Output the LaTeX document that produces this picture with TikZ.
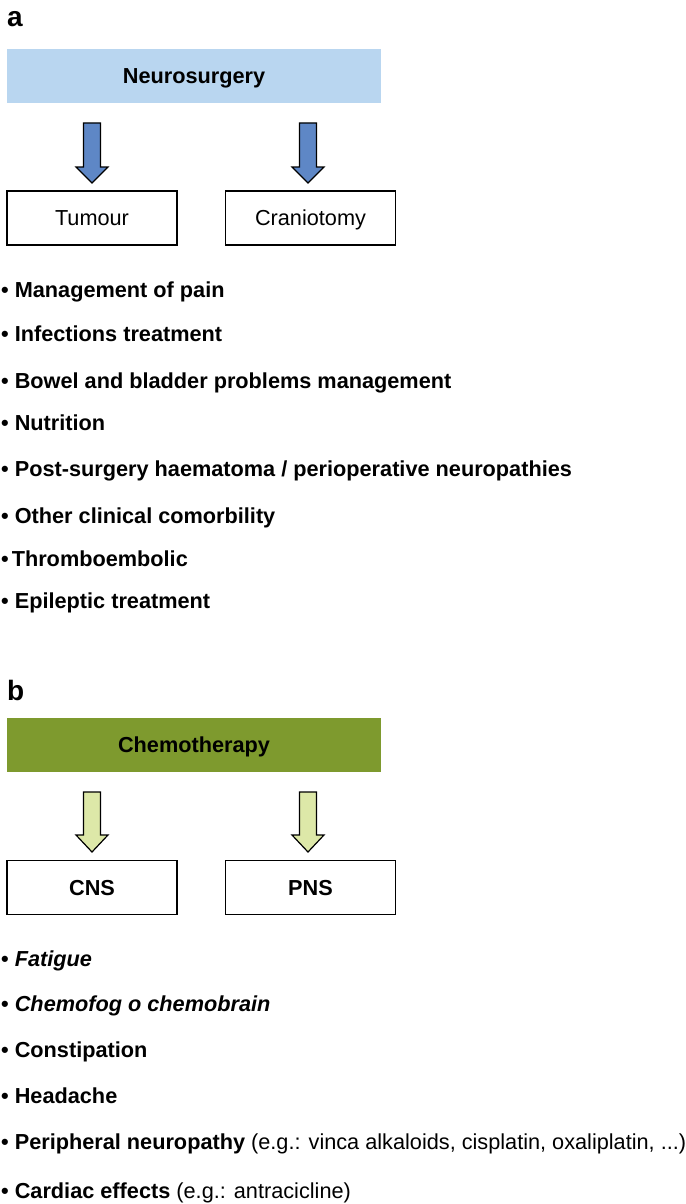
\documentclass[tikz,border=0pt]{standalone}
\usepackage{fontspec}
\setmainfont{Liberation Sans}
\usepackage{xcolor}
\usepackage{tikz}

\definecolor{neuroblue}{RGB}{185,214,240}
\definecolor{arrowblue}{RGB}{94,135,198}
\definecolor{chemogreen}{RGB}{126,154,46}
\definecolor{arrowgreen}{RGB}{221,232,168}

\begin{document}
\begin{tikzpicture}[x=1pt, y=-1pt]
      \tikzstyle{panel} = [anchor=base west, inner sep=0pt, font=\fontsize{28}{30}\selectfont\bfseries]
      \tikzstyle{head} = [minimum width=374pt, minimum height=54pt, inner sep=0pt, text height=15.5pt, text depth=0pt, font=\fontsize{21.7}{25}\selectfont\bfseries]
      \tikzstyle{box} = [draw, line width=1.2pt, minimum width=170pt, minimum height=54pt, inner sep=0pt, text height=15.5pt, text depth=0pt, font=\fontsize{21.7}{25}\selectfont]
      \tikzstyle{item} = [anchor=base west, inner sep=0pt, font=\fontsize{21.7}{25}\selectfont\bfseries]
      \tikzstyle{fat} = [draw, line width=1.2pt, line join=miter]

      \useasboundingbox (0,0) rectangle (685,1204);

      % panel a
      \node[panel] (labA) at (7,27) {a};
      \node[head, fill=neuroblue] (neuro) at (194,76) {Neurosurgery};
      \node[box] (tumour) at (92,218) {Tumour};
      \node[box] (cranio) at (310.5,218) {Craniotomy};

      \coordinate (arrTum) at (92,123);
      \coordinate (arrCra) at (308,123);
      \draw[fat, fill=arrowblue] (arrTum) -- ++(8.5,0) -- ++(0,44) -- ++(7.5,0) -- ++(-16,16)
            -- ++(-16,-16) -- ++(7.5,0) -- ++(0,-44) -- cycle;
      \draw[fat, fill=arrowblue] (arrCra) -- ++(8.5,0) -- ++(0,44) -- ++(7.5,0) -- ++(-16,16)
            -- ++(-16,-16) -- ++(7.5,0) -- ++(0,-44) -- cycle;

      \node[item] (a1) at (1,297) {• Management of pain};
      \node[item] (a2) at (1,341) {• Infections treatment};
      \node[item] (a3) at (1,388) {• Bowel and bladder problems management};
      \node[item] (a4) at (1,430) {• Nutrition};
      \node[item] (a5) at (1,476) {• Post-surgery haematoma / perioperative neuropathies};
      \node[item] (a6) at (1,523) {• Other clinical comorbility};
      \node[item] (a7) at (1,566) {•\kern3pt Thromboembolic};
      \node[item] (a8) at (1,608) {• Epileptic treatment};

      % panel b
      \node[panel] (labB) at (7,700) {b};
      \node[head, fill=chemogreen] (chemo) at (194,745) {Chemotherapy};
      \node[box, font=\fontsize{21.7}{25}\selectfont\bfseries] (cns) at (92,887.5) {CNS};
      \node[box, font=\fontsize{21.7}{25}\selectfont\bfseries] (pns) at (310.5,887.5) {PNS};

      \coordinate (arrCns) at (92,792);
      \coordinate (arrPns) at (308,792);
      \draw[fat, fill=arrowgreen] (arrCns) -- ++(8.5,0) -- ++(0,43) -- ++(7.5,0) -- ++(-16,17)
            -- ++(-16,-17) -- ++(7.5,0) -- ++(0,-43) -- cycle;
      \draw[fat, fill=arrowgreen] (arrPns) -- ++(8.5,0) -- ++(0,43) -- ++(7.5,0) -- ++(-16,17)
            -- ++(-16,-17) -- ++(7.5,0) -- ++(0,-43) -- cycle;

      \node[item] (b1) at (1,966) {• \textit{Fatigue}};
      \node[item] (b2) at (1,1011) {• \textit{Chemofog o chemobrain}};
      \node[item] (b3) at (1,1057) {• Constipation};
      \node[item] (b4) at (1,1103) {• Headache};
      \node[item] (b5) at (1,1149) {• Peripheral neuropathy \textmd{(e.g.: vinca alkaloids, cisplatin, oxaliplatin, ...)}};
      \node[item] (b6) at (1,1198) {• Cardiac effects \textmd{(e.g.: antracicline)}};
\end{tikzpicture}
\end{document}
